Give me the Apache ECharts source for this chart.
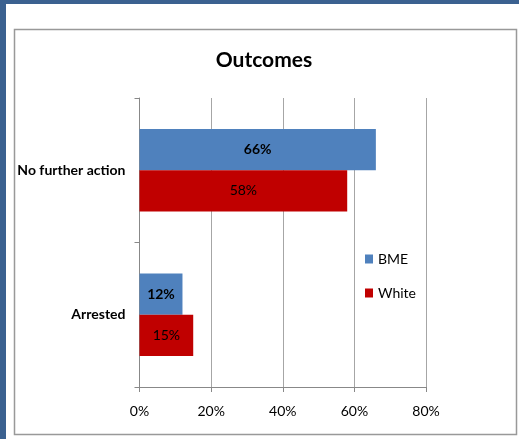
<!DOCTYPE html>
<html>
<head>
<meta charset="utf-8">
<script src="https://cdn.jsdelivr.net/npm/echarts@6/dist/echarts.min.js"></script>
<style>
html,body{margin:0;padding:0;background:#fff;}
#chart{width:519px;height:439px;}
</style>
</head>
<body>
<div id="chart"></div>
<script>
var categories = ['Arrested', 'No further action'];
var bmeValues = [12, 66];
var whiteValues = [15, 58];
var xTicks = [0, 20, 40, 60, 80];

var FONT = 'Lato';
var chart = echarts.init(document.getElementById('chart'));
chart.setOption({
  animation: false,
  backgroundColor: '#ffffff',
  title: {
    text: 'Outcomes',
    left: 264,
    textAlign: 'center',
    top: 50,
    textStyle: {fontFamily: FONT, fontSize: 21, fontWeight: 'bold', color: '#000'},
    padding: 0
  },
  graphic: [
    {type: 'rect', shape: {x: 0, y: 0, width: 519, height: 4}, style: {fill: '#3b6190'}, z: 10},
    {type: 'rect', shape: {x: 0, y: 0, width: 6, height: 439}, style: {fill: '#3b6190'}, z: 10},
    {type: 'rect', shape: {x: 14.5, y: 29.5, width: 502, height: 405}, style: {fill: 'none', stroke: '#999999', lineWidth: 1.5}, z: 10}
  ],
  legend: {
    data: ['BME', 'White'],
    orient: 'vertical',
    left: 365,
    top: 252,
    padding: 0,
    itemWidth: 8,
    itemHeight: 9,
    itemGap: 20,
    icon: 'rect',
    textStyle: {fontFamily: FONT, fontSize: 14, color: '#000'}
  },
  grid: {left: 139.5, right: 93, top: 98, bottom: 52, containLabel: false},
  xAxis: {
    type: 'value',
    min: xTicks[0],
    max: xTicks[xTicks.length - 1],
    interval: 20,
    axisLine: {show: true, lineStyle: {color: '#888888'}},
    axisTick: {show: true, length: 5, lineStyle: {color: '#888888'}},
    splitLine: {show: true, lineStyle: {color: '#a6a6a6'}},
    axisLabel: {formatter: '{value}%', fontFamily: FONT, fontSize: 14, color: '#000', margin: 17}
  },
  yAxis: {
    type: 'category',
    data: categories,
    axisLine: {show: true, lineStyle: {color: '#888888'}},
    axisTick: {show: true, length: 5, lineStyle: {color: '#888888'}},
    axisLabel: {fontFamily: FONT, fontSize: 14, fontWeight: 'bold', color: '#000', margin: 14}
  },
  series: [
    {
      name: 'BME', type: 'bar', data: bmeValues,
      barGap: '0%', barCategoryGap: '43%',
      itemStyle: {color: '#4f81bd'},
      label: {show: true, position: 'inside', formatter: '{c}%', fontFamily: FONT, fontSize: 14, fontWeight: 'bold', color: '#000'}
    },
    {
      name: 'White', type: 'bar', data: whiteValues,
      barGap: '0%', barCategoryGap: '43%',
      itemStyle: {color: '#c00000'},
      label: {show: true, position: 'inside', formatter: '{c}%', fontFamily: FONT, fontSize: 14, color: '#000'}
    }
  ]
});
</script>
</body>
</html>
